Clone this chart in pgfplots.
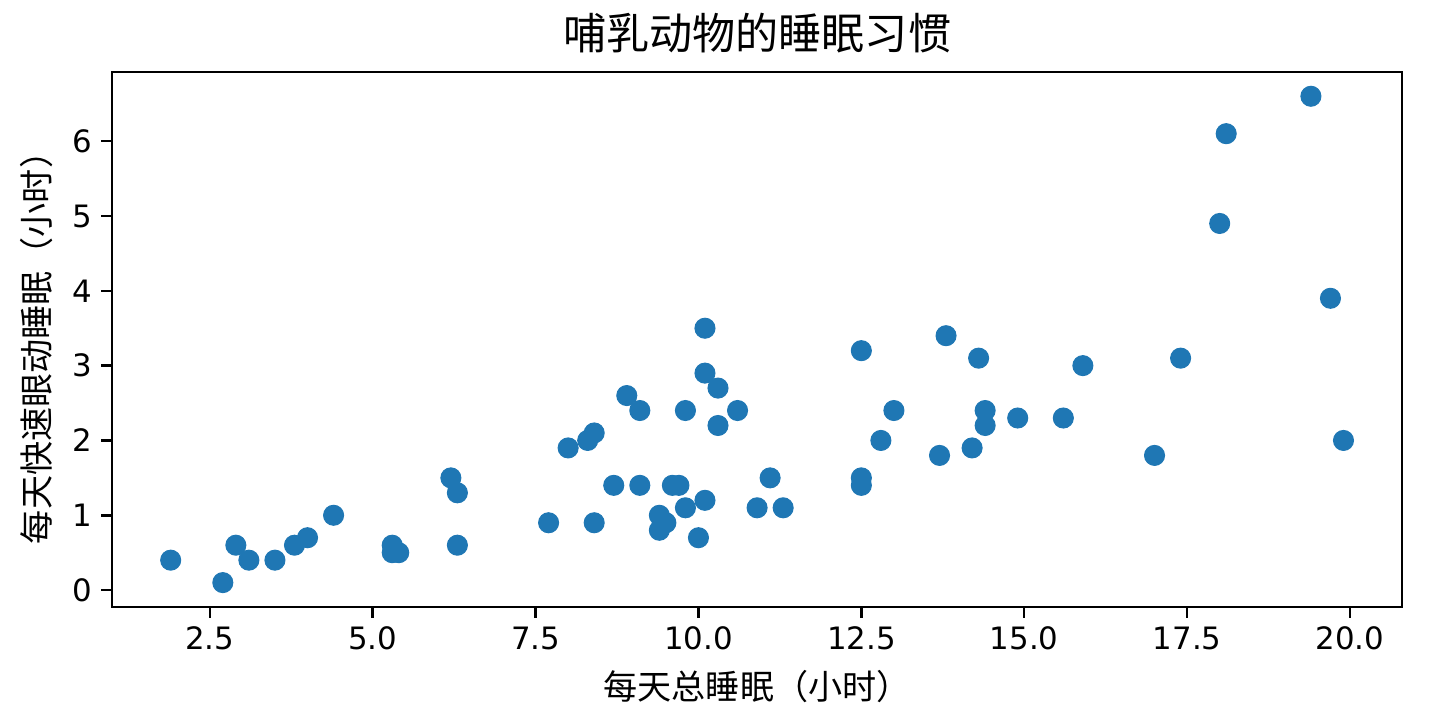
\documentclass[border=0pt]{standalone}
\usepackage{fontspec}
\setmainfont{DejaVu Sans}
\newfontfamily\cjk{Noto Sans CJK SC}
\usepackage{pgfplots}
\pgfplotsset{compat=1.18}
\definecolor{mplblue}{HTML}{1F77B4}
\begin{document}
\begin{tikzpicture}
\path[use as bounding box] (-44.7pt,-45.1pt) rectangle (533.3pt,242.1pt);
\begin{axis}[
    at={(0pt,0pt)}, anchor=south west,
    scale only axis,
    width=514.6pt, height=213.4pt,
    xmin=1.0, xmax=20.8,
    ymin=-0.225, ymax=6.925,
    xtick={2.5,5,7.5,10,12.5,15,17.5,20},
    xticklabels={2.5,5.0,7.5,10.0,12.5,15.0,17.5,20.0},
    ytick={0,1,2,3,4,5,6},
    tick align=outside,
    xtick pos=bottom, ytick pos=left,
    major tick length=4.4pt,
    every tick/.style={black, line width=1pt},
    axis line style={line width=1pt},
    tick label style={font=\fontsize{12.3}{14}\selectfont},
    /pgf/number format/assume math mode=true,
    xlabel={\cjk 每天总睡眠（小时）},
    ylabel={\cjk 每天快速眼动睡眠（小时）},
    label style={font=\fontsize{13.6}{16}\selectfont},
    xlabel style={yshift=-1pt},
    ylabel style={yshift=1pt},
    title={\cjk 哺乳动物的睡眠习惯},
    title style={font=\fontsize{17.2}{20}\selectfont, yshift=-2pt},
]
\addplot[only marks, mark=*, mark size=4pt, mplblue, mark options={fill=mplblue, draw=mplblue}]
table {
x y
17.0 1.8
14.4 2.4
14.9 2.3
4.0 0.7
14.4 2.2
8.7 1.4
10.1 2.9
5.3 0.6
9.4 0.8
10.0 0.7
12.5 1.5
10.3 2.2
8.3 2.0
9.1 1.4
17.4 3.1
5.3 0.5
18.0 4.9
19.7 3.9
2.9 0.6
3.1 0.4
10.1 3.5
10.9 1.1
12.5 3.2
9.8 1.1
1.9 0.4
2.7 0.1
6.2 1.5
6.3 0.6
8.0 1.9
9.5 0.9
19.4 6.6
10.1 1.2
14.2 1.9
14.3 3.1
12.5 1.4
19.9 2.0
7.7 0.9
8.4 0.9
3.8 0.6
9.7 1.4
9.4 1.0
10.3 2.7
13.7 1.8
3.5 0.4
11.1 1.5
18.1 6.1
5.4 0.5
13.0 2.4
9.6 1.4
8.4 2.1
11.3 1.1
10.6 2.4
13.8 3.4
15.9 3.0
12.8 2.0
9.1 2.4
4.4 1.0
15.6 2.3
8.9 2.6
6.3 1.3
9.8 2.4
};
\end{axis}
\end{tikzpicture}
\end{document}
